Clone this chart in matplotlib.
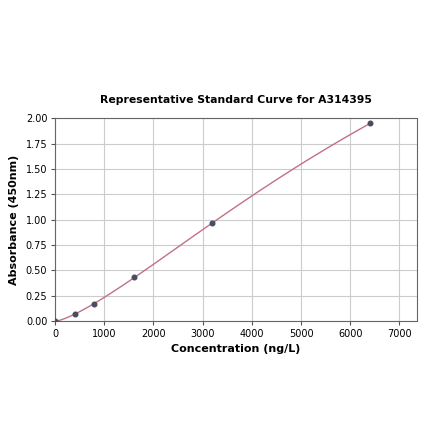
import numpy as np
import matplotlib
matplotlib.use("Agg")
import matplotlib.pyplot as plt

# ── Data ──────────────────────────────────────────────────────────────────
conc = np.array([0, 400, 800, 1600, 3200, 6400])
absorb = np.array([0.0, 0.066, 0.167, 0.433, 0.965, 1.948])

TITLE = "Representative Standard Curve for A314395"
XLABEL = "Concentration (ng/L)"
YLABEL = "Absorbance (450nm)"


# ── 4PL fit (small Levenberg-Marquardt, no scipy) ─────────────────────────
def fourpl(x, p):
    a, b, c, d = p
    return d + (a - d) / (1.0 + (np.maximum(x, 0) / c) ** b)


def fit_4pl(x, y, p0, n_iter=500):
    p = np.array(p0, dtype=float)
    lam = 1e-2
    for _ in range(n_iter):
        r = y - fourpl(x, p)
        J = np.empty((len(x), len(p)))
        for k in range(len(p)):
            dp = np.zeros_like(p)
            dp[k] = 1e-6 * max(abs(p[k]), 1.0)
            J[:, k] = (fourpl(x, p + dp) - fourpl(x, p)) / dp[k]
        A = J.T @ J
        step = np.linalg.solve(A + lam * np.diag(np.diag(A)), J.T @ r)
        pn = p + step
        if pn[2] > 0 and np.sum((y - fourpl(x, pn)) ** 2) < np.sum(r ** 2):
            p, lam = pn, lam * 0.5
        else:
            lam *= 4
    return p


params = fit_4pl(conc, absorb, [0.0, 1.5, 8000.0, 4.0])
xfit = np.linspace(0, conc.max(), 300)
yfit = fourpl(xfit, params)

# ── Plot ──────────────────────────────────────────────────────────────────
fig = plt.figure(figsize=(4.4, 4.41), dpi=100)
ax = fig.add_axes([0.125, 0.272, 0.823, 0.460])

ax.plot(xfit, yfit, color="#c0718a", linewidth=1.0, zorder=2)
ax.scatter(conc, absorb, color="#4a4c62", s=11, zorder=3)

ax.set_xlim(0, 7360)
ax.set_ylim(0, 2.0)
ax.set_xticks(range(0, 7001, 1000))
ax.set_yticks(np.arange(0, 2.01, 0.25))
ax.yaxis.set_major_formatter(plt.FormatStrFormatter("%.2f"))
ax.tick_params(labelsize=7, length=3, pad=2.5, color="#555555")
ax.grid(color="#cccccc", linewidth=0.8)
ax.set_axisbelow(True)
for s in ax.spines.values():
    s.set_color("#666666")

ax.set_title(TITLE, fontsize=7.8, fontweight="bold", pad=11)
ax.set_xlabel(XLABEL, fontsize=8, fontweight="bold", labelpad=4)
ax.set_ylabel(YLABEL, fontsize=8, fontweight="bold", labelpad=5)

fig.savefig("out.png", dpi=100)
